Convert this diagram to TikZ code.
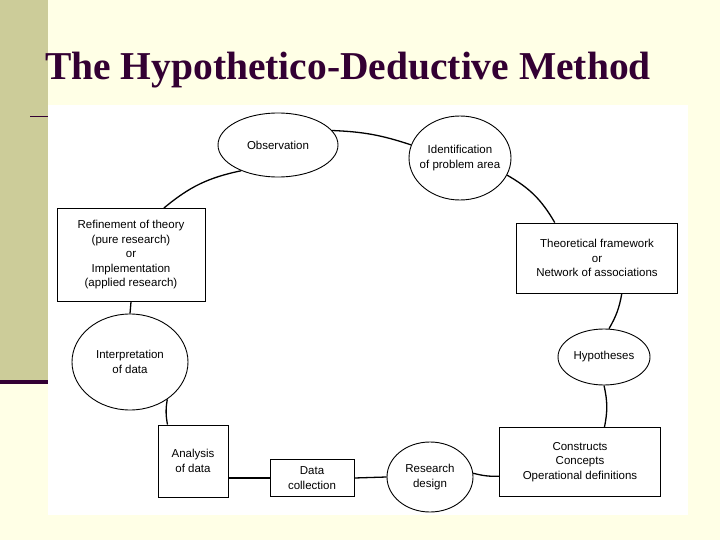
\documentclass[tikz,border=0pt]{standalone}
\usepackage{fontspec}
\setmainfont{Liberation Sans}
\newfontfamily\titlefont{Liberation Serif}
\usetikzlibrary{shapes.geometric}
\definecolor{bg}{HTML}{FFFFE6}
\definecolor{bar}{HTML}{CCCC99}
\definecolor{ttl}{HTML}{330033}
\begin{document}
\begin{tikzpicture}[x=1pt,y=-1pt,
  ell/.style={draw,ellipse,fill=white,line width=0.9pt,align=center,font=\fontsize{11.5}{14.5}\selectfont,inner sep=0pt},
  bx/.style={draw,rectangle,fill=white,line width=0.9pt,align=center,font=\fontsize{11.5}{14.5}\selectfont,inner sep=1pt},
  con/.style={line width=1.3pt}]
\fill[bg] (0,0) rectangle (720,540);
\fill[bar] (0,0) rectangle (48,382);
\fill[ttl] (0,380) rectangle (48,384);
\draw[ttl,line width=1pt] (30,117) -- (50,117);
\fill[white] (48,105) rectangle (688,515);
\node[ttl,font=\titlefont\bfseries\fontsize{39.5}{43}\selectfont,anchor=west,inner sep=0pt] at (45,70) {The Hypothetico-Deductive Method};
\node[ell,minimum width=120,minimum height=64] (obs) at (278,145) {Observation};
\node[ell,minimum width=102,minimum height=84,inner sep=-7pt] (idf) at (460,158) {Identification\\of problem area};
\node[bx,minimum width=161,minimum height=70] (thf) at (597,258) {Theoretical framework\\or\\Network of associations};
\node[ell,minimum width=92,minimum height=56] (hyp) at (604,357) {Hypotheses};
\node[bx,minimum width=161,minimum height=69] (con) at (580,462) {Constructs\\Concepts\\Operational definitions};
\node[ell,minimum width=86,minimum height=70] (rd) at (430,477) {Research\\design};
\node[bx,minimum width=84,minimum height=37] (dc) at (312,478) {Data\\collection};
\node[bx,minimum width=70,minimum height=72] (an) at (193,461) {Analysis\\of data};
\node[ell,minimum width=116,minimum height=96] (int) at (130,362) {Interpretation\\of data};
\node[bx,minimum width=148,minimum height=93] (ref) at (131,255) {Refinement of theory\\(pure research)\\or\\Implementation\\(applied research)};
\draw[con] (obs.15) to[bend left=8] (idf.165);
\draw[con] (idf.-20) to[bend left=15] (thf.140);
\draw[con] (thf.-55) to[bend left=10] (hyp.80);
\draw[con] (hyp.-90) to[bend left=12] (con.55);
\draw[con] (con.190) to[bend left=8] (rd.5);
\draw[con] (rd.west) -- (dc.east);
\draw[con] (dc.west) -- (dc.west -| an.east);
\draw[con] (an.125) to[bend left=10] (int.-45);
\draw[con] (int.north) -- (ref.south);
\draw[con] (ref.55) to[bend left=14] (obs.215);
\end{tikzpicture}
\end{document}
